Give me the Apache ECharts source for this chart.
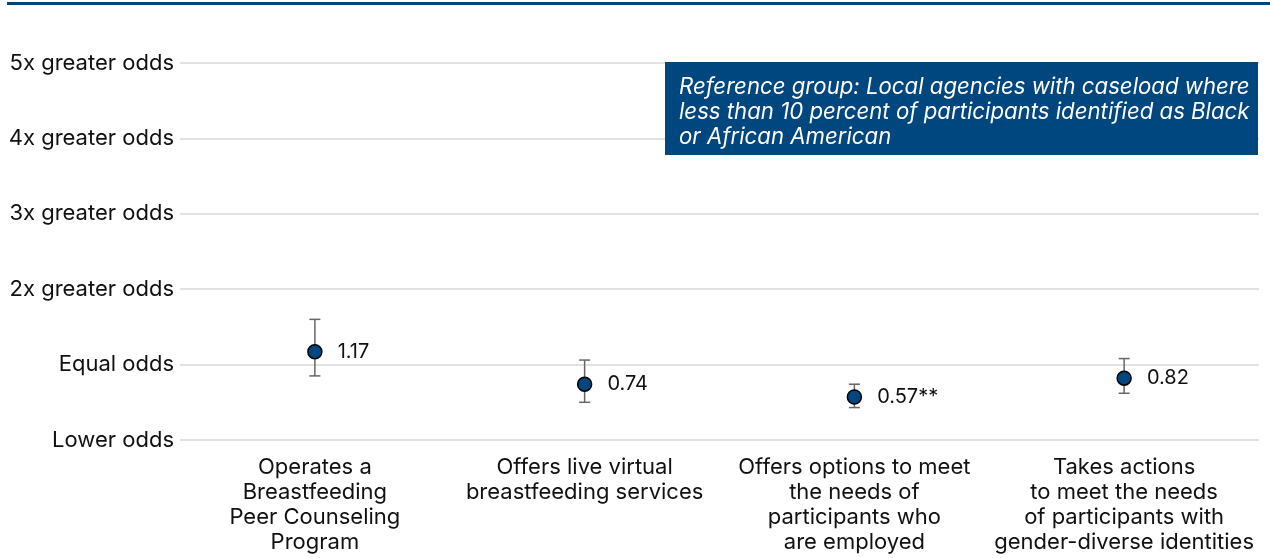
<!DOCTYPE html>
<html>
<head>
<meta charset="utf-8">
<script src="https://cdn.jsdelivr.net/npm/echarts@6/dist/echarts.min.js"></script>
<style>
html,body{margin:0;padding:0;background:#fff;}
#chart{width:1270px;height:558px;}
</style>
</head>
<body>
<div id="chart"></div>
<script>
const categories = [
  "Operates a\nBreastfeeding\nPeer Counseling\nProgram",
  "Offers live virtual\nbreastfeeding services",
  "Offers options to meet\nthe needs of\nparticipants who\nare employed",
  "Takes actions\nto meet the needs\nof participants with\ngender-diverse identities"
];
const oddsRatios = [1.17, 0.74, 0.57, 0.82];
const pointLabels = ["1.17", "0.74", "0.57**", "0.82"];
const ciLow = [0.85, 0.50, 0.43, 0.62];
const ciHigh = [1.60, 1.06, 0.74, 1.08];
const yTickLabels = ["Lower odds", "Equal odds", "2x greater odds", "3x greater odds", "4x greater odds", "5x greater odds"];
const noteText = "Reference group: Local agencies with caseload where\nless than 10 percent of participants identified as Black\nor African American";

const FONT = "Inter";
const NAVY = "#00467f";
const chart = echarts.init(document.getElementById('chart'));

chart.setOption({
  animation: false,
  backgroundColor: '#fff',
  grid: {left: 180, right: 11, top: 63, bottom: 118, containLabel: false, outerBoundsMode: 'none'},
  xAxis: {
    type: 'category', data: categories,
    axisLine: {show: false}, axisTick: {show: false},
    axisLabel: {interval: 0, margin: 15, color: '#111', fontFamily: FONT, fontSize: 22, lineHeight: 25}
  },
  yAxis: {
    type: 'value', min: 0, max: 5, interval: 1,
    axisLine: {show: false}, axisTick: {show: false},
    splitLine: {show: true, lineStyle: {color: '#d9d9d9', width: 1.5}},
    axisLabel: {
      margin: 6, color: '#111', fontFamily: FONT, fontSize: 22,
      formatter: function (v) { return yTickLabels[Math.round(v)]; }
    }
  },
  graphic: [
    {type: 'rect', left: 7, top: 2, shape: {width: 1263, height: 3}, style: {fill: NAVY}, z: 10},
    {type: 'rect', left: 665, top: 62, shape: {width: 593, height: 93}, style: {fill: NAVY}, z: 10},
    {type: 'text', left: 679, top: 75, z: 11,
     style: {text: noteText, fill: '#fff', font: 'italic 22.2px ' + FONT, lineHeight: 25}}
  ],
  series: [
    {
      type: 'custom', z: 3,
      data: categories.map((c, i) => [i, ciLow[i], ciHigh[i]]),
      renderItem: function (params, api) {
        const lo = api.coord([api.value(0), api.value(1)]);
        const hi = api.coord([api.value(0), api.value(2)]);
        const x = lo[0], w = 5.5;
        const st = {stroke: '#666', lineWidth: 1.5};
        return {type: 'group', children: [
          {type: 'line', shape: {x1: x, y1: lo[1], x2: x, y2: hi[1]}, style: st},
          {type: 'line', shape: {x1: x - w, y1: lo[1], x2: x + w, y2: lo[1]}, style: st},
          {type: 'line', shape: {x1: x - w, y1: hi[1], x2: x + w, y2: hi[1]}, style: st}
        ]};
      }
    },
    {
      type: 'scatter', z: 4,
      symbol: 'circle', symbolSize: 14,
      itemStyle: {color: NAVY, borderColor: '#000', borderWidth: 1.5, opacity: 1},
      data: oddsRatios.map((v, i) => [i, v]),
      label: {show: true, position: 'right', distance: 15, color: '#111', fontFamily: FONT, fontSize: 20,
        formatter: function (p) { return pointLabels[p.dataIndex]; }}
    }
  ]
});
</script>
</body>
</html>
